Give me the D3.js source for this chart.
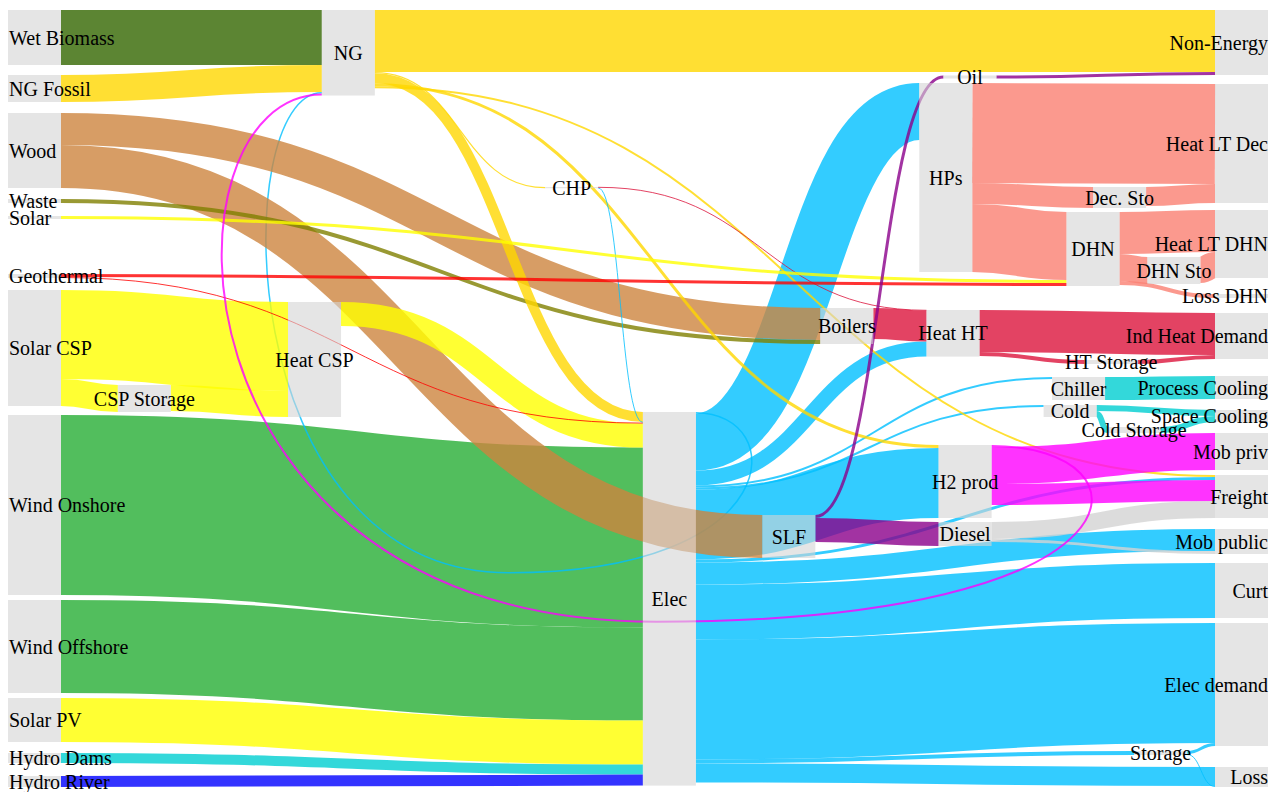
<!DOCTYPE html>
<html>
<head>
<meta charset="utf-8">
<script src="https://cdn.jsdelivr.net/npm/d3@7"></script>
<style>
  body { margin: 0; background: #fff; }
</style>
</head>
<body>
<svg id="sankey" width="1276" height="792"></svg>
<script>
// nodes, with where they sit: column 0 = sources, 100 = end uses; top in TWh from the top edge
const nodeNames = [
  'Wet Biomass', 'NG Fossil', 'Wood', 'Waste', 'Solar', 'Geothermal', 'Solar CSP', 'Wind Onshore',
  'Wind Offshore', 'Solar PV', 'Hydro Dams', 'Hydro River',
  'CSP Storage', 'Heat CSP', 'NG', 'CHP', 'Elec', 'SLF', 'Boilers', 'HPs', 'Heat HT', 'H2 prod',
  'Diesel', 'Oil', 'Cold', 'Chiller', 'DHN', 'HT Storage', 'Dec. Sto', 'Cold Storage', 'Storage', 'DHN Sto',
  'Non-Energy', 'Heat LT Dec', 'Heat LT DHN', 'Loss DHN', 'Ind Heat Demand', 'Process Cooling',
  'Space Cooling', 'Mob priv', 'Freight', 'Mob public', 'Curt', 'Elec demand', 'Loss',
]
const nodeColumn = [
  0, 0, 0, 0, 0, 0, 0, 0, 0, 0, 0, 0,
  9.1, 23.2, 26, 44.5, 52.6, 62.5, 67.3, 75.5, 76.1, 77.1,
  77.1, 77.5, 85.8, 86.5, 87.7, 89.2, 89.9, 91.1, 93.3, 94.4,
  100, 100, 100, 100, 100, 100, 100, 100, 100, 100, 100, 100, 100,
]
const nodeTop = [
  0, 32.5, 51.5, 94.5, 103, 132, 140, 202.5, 295, 344, 371.5, 383,
  187.5, 146, 0, 88.5, 201, 252.5, 149, 36.5, 150, 217.5,
  256, 32.75, 197.5, 183.5, 101, 175, 88.5, 208.5, 370.5, 123.5,
  0, 37, 100, 142, 151.5, 183, 200, 211.5, 232.5, 259.5, 276.5, 306.5, 378.5,
]

// flows in TWh: source, target, value, carrier
const flows = [
  ['Wind Onshore', 'Elec', 90, 'Wind'],
  ['Wind Offshore', 'Elec', 46.5, 'Wind'],
  ['Solar PV', 'Elec', 22, 'Solar'],
  ['Hydro Dams', 'Elec', 5, 'Hydro Dams'],
  ['Hydro River', 'Elec', 5.5, 'Hydro River'],
  ['Elec', 'NG', 0.75, 'Elec'],
  ['Elec', 'HPs', 28.5, 'Elec'],
  ['Elec', 'Heat HT', 7.5, 'Elec'],
  ['Elec', 'Chiller', 1, 'Elec'],
  ['Elec', 'Cold', 1, 'Elec'],
  ['Elec', 'H2 prod', 35, 'Elec'],
  ['Elec', 'Freight', 1.5, 'Elec'],
  ['Elec', 'Mob public', 11, 'Elec'],
  ['Elec', 'Curt', 27.5, 'Elec'],
  ['Elec', 'Elec demand', 60, 'Elec'],
  ['Elec', 'Storage', 2, 'Elec'],
  ['Elec', 'Loss', 9.5, 'Elec'],
  ['Storage', 'Elec demand', 1.5, 'Elec'],
  ['Storage', 'Loss', 0.5, 'Elec'],
  ['Wet Biomass', 'NG', 27.5, 'Wet Biomass'],
  ['NG Fossil', 'NG', 13.5, 'NG'],
  ['Solar CSP', 'Heat CSP', 44.5, 'Solar'],
  ['Solar CSP', 'CSP Storage', 13.5, 'Solar'],
  ['CSP Storage', 'Heat CSP', 13, 'Solar'],
  ['Wood', 'Boilers', 16, 'Wood'],
  ['Wood', 'SLF', 21.5, 'Wood'],
  ['Waste', 'Boilers', 2, 'Waste'],
  ['Heat CSP', 'Elec', 12, 'Solar'],
  ['NG', 'Non-Energy', 31, 'NG'],
  ['NG', 'Elec', 5, 'NG'],
  ['NG', 'CHP', 0.6, 'NG'],
  ['NG', 'H2 prod', 1.5, 'NG'],
  ['NG', 'Freight', 1, 'NG'],
  ['CHP', 'Elec', 0.3, 'Elec'],
  ['CHP', 'Heat HT', 0.3, 'Heat HT'],
  ['Solar', 'DHN', 1.5, 'Solar'],
  ['Geothermal', 'DHN', 1.5, 'Geothermal'],
  ['Geothermal', 'Elec', 0.5, 'Geothermal'],
  ['Boilers', 'Heat HT', 15.5, 'Heat HT'],
  ['Heat HT', 'Ind Heat Demand', 21, 'Heat HT'],
  ['Heat HT', 'HT Storage', 2, 'Heat HT'],
  ['HT Storage', 'Ind Heat Demand', 2, 'Heat HT'],
  ['HPs', 'Heat LT Dec', 50, 'Heat LT'],
  ['HPs', 'Dec. Sto', 10.5, 'Heat LT'],
  ['HPs', 'DHN', 34, 'Heat LT'],
  ['Dec. Sto', 'Heat LT Dec', 9.5, 'Heat LT'],
  ['DHN', 'Heat LT DHN', 21, 'Heat LT'],
  ['DHN', 'DHN Sto', 13.5, 'Heat LT'],
  ['DHN', 'Loss DHN', 2, 'Heat LT'],
  ['DHN Sto', 'Heat LT DHN', 13, 'Heat LT'],
  ['SLF', 'Oil', 1.5, 'Oil'],
  ['SLF', 'Diesel', 12, 'Oil'],
  ['Oil', 'Non-Energy', 1.5, 'Oil'],
  ['Diesel', 'Freight', 8.5, 'Diesel'],
  ['Diesel', 'Mob public', 1.5, 'Diesel'],
  ['H2 prod', 'NG', 1, 'H2'],
  ['H2 prod', 'Mob priv', 18.5, 'H2'],
  ['H2 prod', 'Freight', 10.5, 'H2'],
  ['Chiller', 'Process Cooling', 11.5, 'Cold'],
  ['Cold', 'Space Cooling', 3, 'Cold'],
  ['Cold', 'Cold Storage', 3, 'Cold'],
  ['Cold Storage', 'Space Cooling', 3, 'Cold'],
]

const carrierColors = {
  'Wet Biomass': '#336600',
  NG: '#FFD700',
  Wood: '#CD853F',
  Waste: '#808000',
  Solar: '#FFFF00',
  Geothermal: '#FF0000',
  Wind: '#27AE34',
  'Hydro Dams': '#00CED1',
  'Hydro River': '#0000FF',
  Elec: '#00BFFF',
  'Heat HT': '#DC143C',
  'Heat LT': '#FA8072',
  Oil: '#8B008B',
  Diesel: '#D3D3D3',
  H2: '#FF00FF',
  Cold: '#00CED1',
}

const svg = d3.select('#sankey')
const nodeWidth = 53

const x = d3.scaleLinear().domain([0, 100]).range([8, 1215])
const y = d3.scaleLinear().domain([0, 390]).range([10, 790])

// build the graph
const nodes = nodeNames.map((name, i) => ({
  name,
  column: nodeColumn[i],
  top: nodeTop[i],
  sourceLinks: [],
  targetLinks: [],
}))
const byName = new Map(nodes.map((n) => [n.name, n]))
const links = flows.map(([s, t, value, carrier]) => {
  const link = { source: byName.get(s), target: byName.get(t), value, carrier }
  link.source.sourceLinks.push(link)
  link.target.targetLinks.push(link)
  return link
})

// node sizes and places
for (const n of nodes) {
  n.value = Math.max(d3.sum(n.sourceLinks, (l) => l.value), d3.sum(n.targetLinks, (l) => l.value))
  n.x0 = x(n.column)
  n.x1 = n.x0 + nodeWidth
  n.y0 = y(n.top)
  n.y1 = n.y0 + y(n.value) - y(0)
}
// stack link ends inside each node, ordered by the other node's height
for (const n of nodes) {
  n.sourceLinks.sort((a, b) => a.target.y0 - b.target.y0)
  n.targetLinks.sort((a, b) => a.source.y0 - b.source.y0)
  let sy = 0
  for (const l of n.sourceLinks) {
    l.width = y(l.value) - y(0)
    l.sy = sy
    sy += l.width
  }
  let ty = 0
  for (const l of n.targetLinks) {
    l.ty = ty
    ty += y(l.value) - y(0)
  }
}

function linkPath(d) {
  const x0 = d.source.x1
  const x1 = d.target.x0
  const y0 = d.source.y0 + d.sy + d.width / 2
  const y1 = d.target.y0 + d.ty + d.width / 2
  if (x1 >= x0) {
    const xi = d3.interpolateNumber(x0, x1)
    const x2 = xi(0.5)
    const x3 = xi(0.5)
    return `M${x0},${y0}C${x2},${y0} ${x3},${y1} ${x1},${y1}`
  }
  // flow going back left: loop out to the right, under, and in from the left
  const a = (x0 - x1) / 4
  const xm = (x0 + x1) / 2
  const yb = Math.max(y0, y1) + Math.abs(y0 - y1) / 2
  return `M${x0},${y0}C${x0 + a},${y0} ${x0 + a},${yb} ${xm},${yb}` +
    `C${x1 - a},${yb} ${x1 - a},${y1} ${x1},${y1}`
}

svg
  .append('g')
  .attr('fill', 'none')
  .selectAll('path')
  .data(links)
  .enter()
  .append('path')
  .attr('d', linkPath)
  .attr('stroke', (d) => carrierColors[d.carrier])
  .attr('stroke-opacity', 0.8)
  .attr('stroke-width', (d) => Math.max(1, d.width))

svg
  .append('g')
  .selectAll('rect')
  .data(nodes)
  .enter()
  .append('rect')
  .attr('x', (d) => d.x0)
  .attr('y', (d) => d.y0)
  .attr('width', nodeWidth)
  .attr('height', (d) => Math.max(1, d.y1 - d.y0))
  .attr('fill', '#d3d3d3')
  .attr('fill-opacity', 0.6)

svg
  .append('g')
  .attr('font-family', '"Liberation Serif", "DejaVu Serif", serif')
  .attr('font-size', 20)
  .attr('fill', '#000')
  .selectAll('text')
  .data(nodes)
  .enter()
  .append('text')
  .attr('x', (d) => (d.column === 0 ? d.x0 + 1 : d.column === 100 ? d.x1 : (d.x0 + d.x1) / 2))
  .attr('y', (d) => (d.y0 + d.y1) / 2)
  .attr('dy', '0.35em')
  .attr('text-anchor', (d) => (d.column === 0 ? 'start' : d.column === 100 ? 'end' : 'middle'))
  .text((d) => d.name)
</script>
</body>
</html>
